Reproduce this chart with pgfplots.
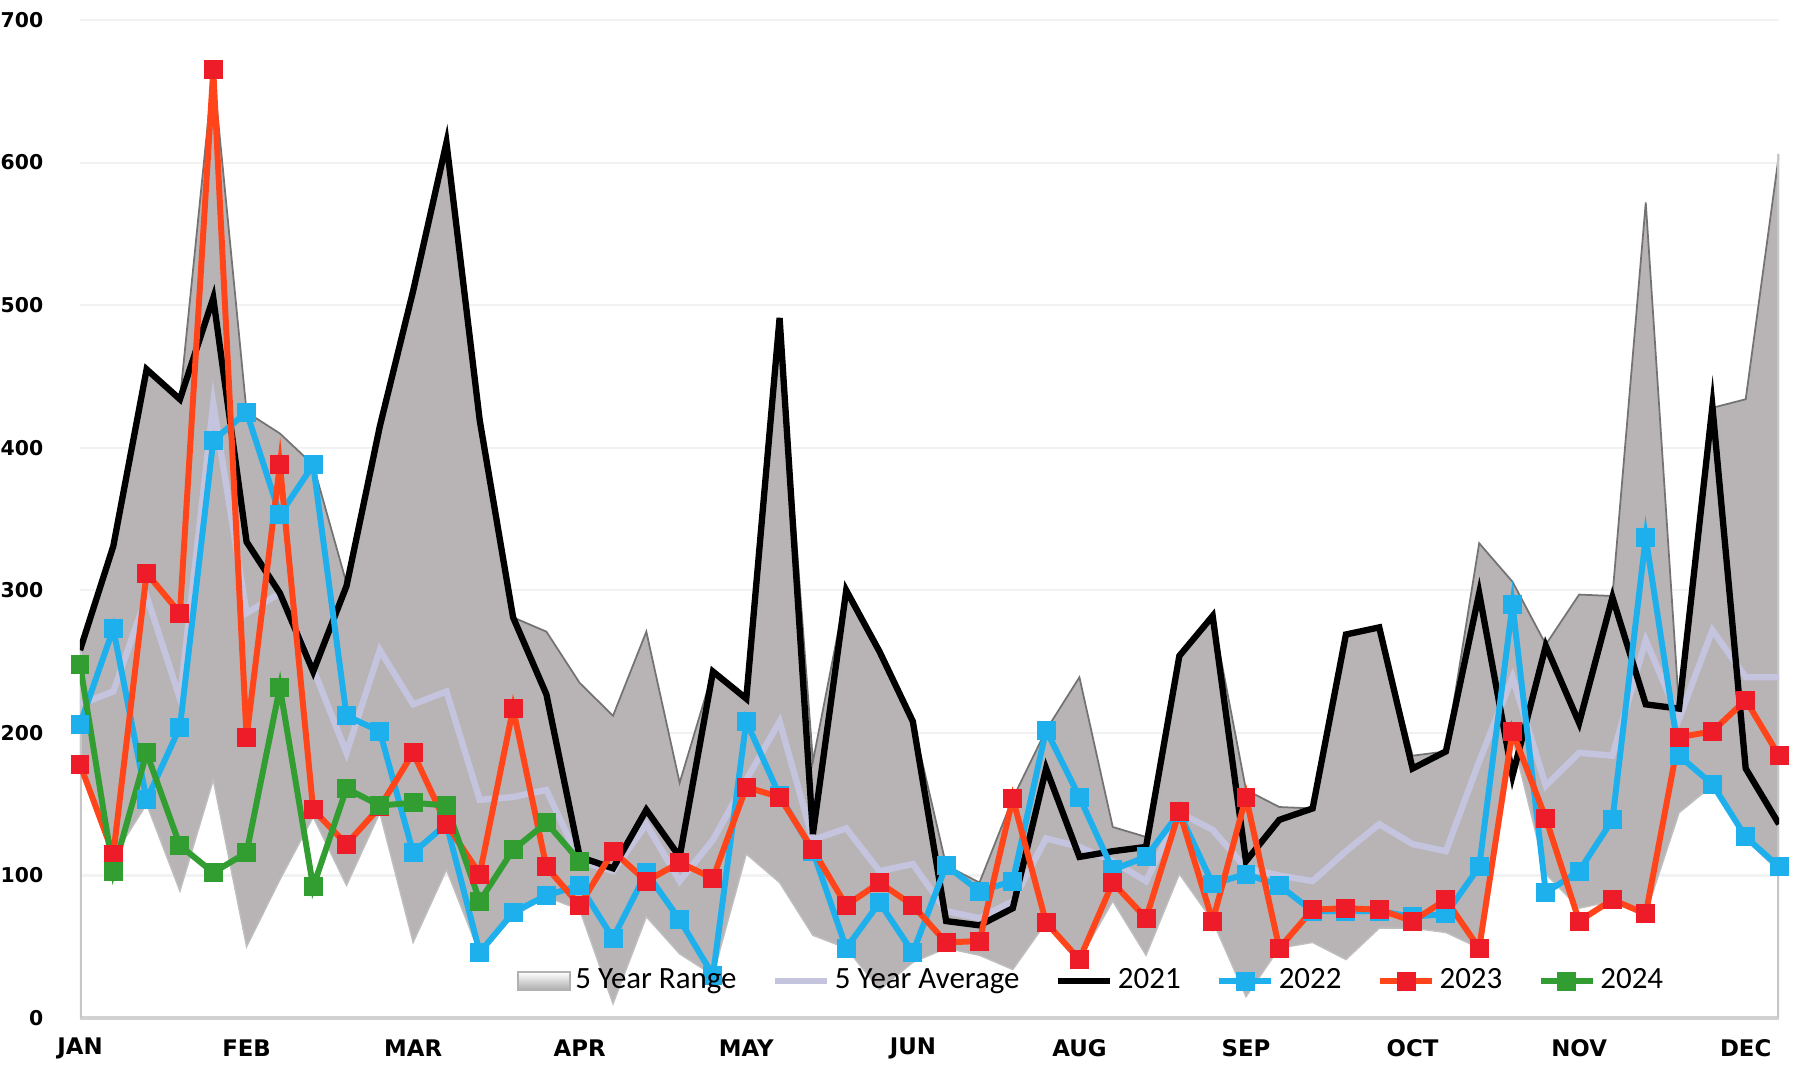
\documentclass[border=0pt]{standalone}
\usepackage{pgfplots}
\pgfplotsset{compat=1.18}
\usepackage{pgfplotstable}
\usepgfplotslibrary{fillbetween}
\usepackage{fontspec}
\setmainfont{Carlito}
\newfontfamily\tickfont{DejaVu Sans}

\definecolor{rangegray}{RGB}{184,180,182}
\definecolor{avgline}{RGB}{196,196,222}
\definecolor{c2022}{RGB}{30,176,236}
\definecolor{c2023}{RGB}{255,69,25}
\definecolor{m2023}{RGB}{238,28,40}
\definecolor{c2024}{RGB}{50,158,50}

% weekly values, weeks 0..51
\pgfplotstableread{
wk upper lower avg y2021 y2022 y2023
0 258 178 220 258 206 178
1 331 113 229 331 273 115
2 455 150 296 455 153 312
3 434 89 224 434 204 284
4 665 167 431 505 405 665
5 425 50 284 334 425 197
6 410 97 298 298 353 388
7 388 141 245 243 388 146
8 305 93 186 303 212 122
9 415 144 258 415 201 148
10 510 53 220 510 116 186
11 614 104 229 614 136 136
12 419 45 153 419 46 101
13 281 71 155 281 74 217
14 271 85 160 227 86 106
15 235 76 110 113 93 79
16 212 10 103 105 56 117
17 271 71 136 146 102 96
18 165 45 96 113 69 109
19 243 30 125 243 30 98
20 224 115 167 224 208 162
21 491 95 208 491 156 155
22 180 58 125 129 117 118
23 300 49 133 300 49 79
24 257 20 103 257 81 95
25 208 39 108 208 46 79
26 107 49 75 68 107 53
27 95 44 70 65 89 54
28 154 34 82 77 96 154
29 202 67 126 175 202 67
30 239 41 120 113 155 41
31 134 82 110 117 104 95
32 127 44 96 120 113 70
33 254 101 144 254 144 145
34 282 68 132 282 94 68
35 160 15 105 110 101 155
36 148 49 100 139 93 49
37 147 53 96 147 75 76
38 269 41 117 269 75 77
39 274 63 136 274 75 76
40 184 63 122 175 71 68
41 187 60 117 187 73 83
42 333 49 180 298 106 49
43 306 196 239 170 290 201
44 262 101 163 261 88 140
45 297 77 186 207 103 68
46 296 82 184 295 139 83
47 572 73 265 220 337 73
48 217 144 210 217 184 197
49 428 163 272 429 164 201
50 434 125 239 175 127 223
51 606 103 239 136 106 184
}\weekly

\pgfplotstableread{
wk y2024
0 248
1 103
2 186
3 121
4 102
5 116
6 232
7 92
8 161
9 149
10 151
11 149
12 82
13 118
14 137
15 110
}\recent

\begin{document}
\begin{tikzpicture}
\begin{axis}[
    scale only axis,
    width=16.99cm, height=9.98cm,
    xmin=0, xmax=51, ymin=0, ymax=700,
    axis x line*=bottom,
    axis y line*=left,
    x axis line style={draw=gray!35, line width=1pt, -},
    y axis line style={draw=none},
    ytick={0,100,...,700},
    xtick={0,5,...,50},
    xticklabels={JAN,FEB,MAR,APR,MAY,JUN,AUG,SEP,OCT,NOV,DEC},
    major tick length=0pt,
    ymajorgrids,
    grid style={gray!10, line width=0.6pt},
    /pgf/number format/assume math mode=true,
    yticklabel style={font=\tickfont\bfseries\fontsize{5.8}{7}\selectfont,
        anchor=east, inner sep=0pt, xshift=-0.36cm},
    xticklabel style={font=\tickfont\bfseries\fontsize{6.5}{7}\selectfont,
        anchor=center, inner sep=0pt, yshift=-0.30cm},
    legend image code/.code={\draw[mark repeat=2,mark phase=2,#1]
        plot coordinates {(0cm,0cm) (0.26cm,0cm) (0.52cm,0cm)};},
    legend style={at={(0.596,0.037)}, anchor=center, draw=none, fill=none,
        font=\fontsize{8.8}{10}\selectfont, inner sep=0pt,
        nodes={inner sep=1.3pt},
        /tikz/every even column/.append style={column sep=0.31cm}},
    legend columns=6,
    legend cell align=left,
]
% 5 year range
\addplot[name path=upper, draw=none, forget plot] table[x=wk, y=upper]{\weekly};
\addplot[name path=lower, draw=none, forget plot] table[x=wk, y=lower]{\weekly};
\addplot[fill=rangegray, draw=none,
    legend image code/.code={\draw[draw=gray!60, top color=white, bottom color=gray!65, line width=0.4pt]
        (0cm,-0.09cm) rectangle (0.52cm,0.09cm);}]
    fill between[of=upper and lower];
\addlegendentry{5 Year Range}
\addplot[draw=black!55, line width=0.5pt, forget plot] table[x=wk, y=upper]{\weekly};
\addplot[draw=black!25, line width=0.4pt, forget plot] table[x=wk, y=lower]{\weekly};
\addplot[ycomb, draw=gray!45, line width=1pt, forget plot] coordinates {(0,258) (51,606)};

\addplot[avgline, line width=1.8pt, no marks] table[x=wk, y=avg]{\weekly};
\addlegendentry{5 Year Average}
\addplot[black, line width=1.8pt, no marks] table[x=wk, y=y2021]{\weekly};
\addlegendentry{2021}
\addplot[c2022, line width=1.7pt, mark=square*, mark size=2.5pt,
    mark options={solid, line width=0.4pt, fill=c2022, draw=c2022}] table[x=wk, y=y2022]{\weekly};
\addlegendentry{2022}
\addplot[c2023, line width=1.7pt, mark=square*, mark size=2.5pt,
    mark options={solid, line width=0.4pt, fill=m2023, draw=m2023}] table[x=wk, y=y2023]{\weekly};
\addlegendentry{2023}
\addplot[c2024, line width=1.7pt, mark=square*, mark size=2.5pt,
    mark options={solid, line width=0.4pt, fill=c2024, draw=c2024}] table[x=wk, y=y2024]{\recent};
\addlegendentry{2024}
\end{axis}
\pgfresetboundingbox
\path[use as bounding box] (-0.80,-0.46) rectangle (17.19,10.18);
\end{tikzpicture}
\end{document}
